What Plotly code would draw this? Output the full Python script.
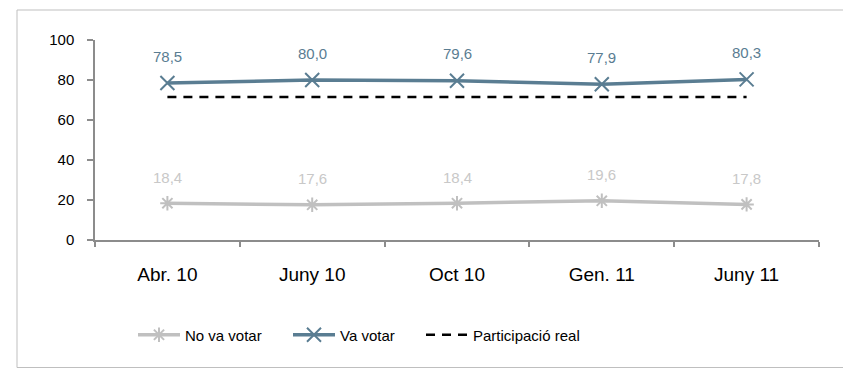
import plotly.graph_objects as go

categories = ["Abr. 10", "Juny 10", "Oct 10", "Gen. 11", "Juny 11"]
no_va_votar = [18.4, 17.6, 18.4, 19.6, 17.8]
va_votar = [78.5, 80.0, 79.6, 77.9, 80.3]
participacio_real = [71.5, 71.5, 71.5, 71.5, 71.5]
y_ticks = [0, 20, 40, 60, 80, 100]

BLUE = "#5a7d92"
GRAY = "#c0c0c0"
FONT = "Liberation Sans, Arial, sans-serif"

# page body has an 8px default margin; figure is sized/offset to compensate
OFF = 8
L, T, PW, PH = 95 - OFF, 40 - OFF, 724, 200

def fmt(v):
    return f"{v:.1f}".replace(".", ",")

fig = go.Figure()
fig.add_trace(go.Scatter(
    x=categories, y=no_va_votar, name="No va votar", mode="lines+markers", legend="legend",
    line=dict(color=GRAY, width=3.5),
    marker=dict(symbol="asterisk-open", size=12, color=GRAY, line=dict(color=GRAY, width=2)),
))
fig.add_trace(go.Scatter(
    x=categories, y=va_votar, name="Va votar", mode="lines+markers", legend="legend2",
    line=dict(color=BLUE, width=3.5),
    marker=dict(symbol="x-thin-open", size=14, color=BLUE, line=dict(color=BLUE, width=2)),
))
fig.add_trace(go.Scatter(
    x=categories, y=participacio_real, name="Participació real", mode="lines", legend="legend3",
    line=dict(color="black", width=2.5, dash="9px,7px"),
))

annotations = []
for c, v in zip(categories, va_votar):
    annotations.append(dict(x=c, y=v, xref="x", yref="y", text=fmt(v), showarrow=False,
                            yshift=27, font=dict(family=FONT, size=15, color=BLUE)))
for c, v in zip(categories, no_va_votar):
    annotations.append(dict(x=c, y=v, xref="x", yref="y", text=fmt(v), showarrow=False,
                            yshift=26, font=dict(family=FONT, size=15, color="#c8c8c8")))

def leg(center_px):
    return dict(orientation="h", x=(center_px - 21 - 95) / PW, xanchor="left",
                y=(240 - 335) / PH, yanchor="middle", itemwidth=42,
                font=dict(size=15, family=FONT), bgcolor="rgba(0,0,0,0)")

W, H = 851 - OFF, 369 - OFF
fig.update_layout(
    width=W, height=H,
    margin=dict(l=L, r=W - L - PW, t=T, b=H - T - PH),
    paper_bgcolor="white", plot_bgcolor="white",
    font=dict(family=FONT, color="black"),
    showlegend=True,
    legend=leg(154), legend2=leg(309), legend3=leg(442),
    annotations=annotations,
    shapes=[dict(type="rect", xref="paper", yref="paper",
                 x0=(17 - 95) / PW, x1=(848 - 95) / PW,
                 y0=(240 - 367.5) / PH, y1=(240 - 10) / PH,
                 line=dict(color="#bfbfbf", width=1), layer="below")],
)
fig.update_xaxes(
    type="category", range=[-0.5, 4.5], showgrid=False, zeroline=False,
    showline=True, linecolor="#8c8c8c", linewidth=1.5,
    ticks="outside", tickson="boundaries", ticklen=5, tickcolor="#8c8c8c", tickwidth=1.5,
    tickfont=dict(size=19, family=FONT, color="black"), ticklabelstandoff=16,
)
fig.update_yaxes(
    range=[0, 100], tickvals=y_ticks, showgrid=False, zeroline=False,
    showline=True, linecolor="#8c8c8c", linewidth=1.5,
    ticks="outside", ticklen=6, tickcolor="#8c8c8c", tickwidth=1.5,
    tickfont=dict(size=15, family=FONT, color="black"), ticklabelstandoff=10,
)

fig.write_html("out.html")
